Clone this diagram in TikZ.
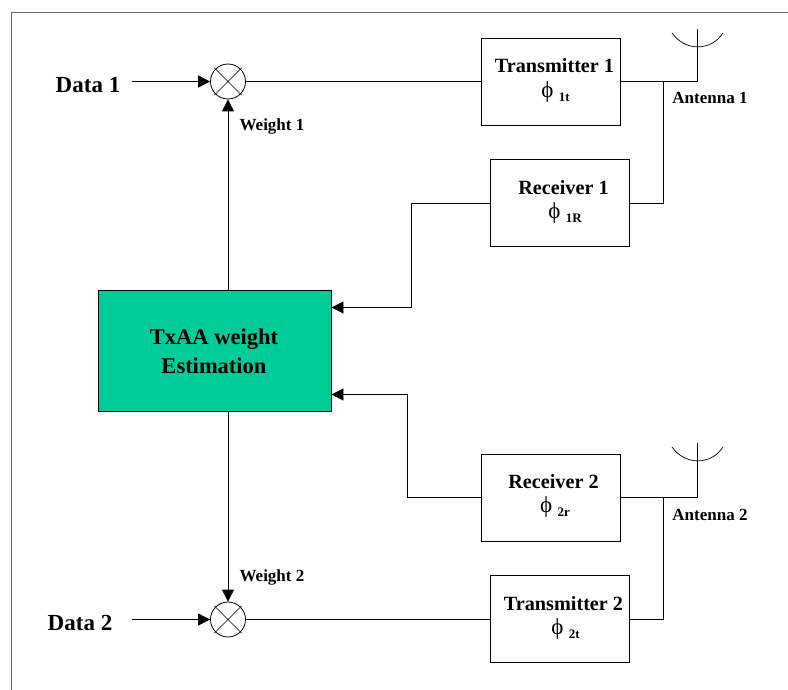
\documentclass[tikz,border=0pt]{standalone}
\usepackage{fontspec}
\setmainfont{Liberation Serif}
\definecolor{boxgreen}{RGB}{0,204,153}
\definecolor{framegray}{RGB}{100,100,100}
\usetikzlibrary{arrows.meta,calc}
\tikzset{
  wire/.style={draw=black,line width=0.9pt},
  arrowwire/.style={wire,-{Triangle[length=12pt,width=12pt]}},
  blockbox/.style={draw=black,line width=0.9pt,minimum width=139pt,minimum height=87pt,inner sep=0pt},
  mixer/.style={circle,draw=black,line width=0.8pt,minimum size=35pt,inner sep=0pt},
  txt/.style={font=\bfseries,inner sep=0pt,anchor=center},
  bigtxt/.style={txt,font=\fontsize{23}{26}\selectfont\bfseries},
  midtxt/.style={txt,font=\fontsize{20.2}{22}\selectfont\bfseries},
  smalltxt/.style={txt,font=\fontsize{17}{19}\selectfont\bfseries},
}
\newcommand{\phisym}[1]{{\mdseries\fontsize{23}{24}\selectfont ϕ}\raisebox{-4pt}[0pt][0pt]{\fontsize{13}{14}\selectfont\bfseries\ \,#1}}
\begin{document}
\begin{tikzpicture}[x=1pt,y=-1pt]
\useasboundingbox (0,0) rectangle (788,690);
\draw[framegray,line width=1.1pt] (11.5,690) -- (11.5,12.5) -- (788,12.5);
% blocks
\node[blockbox] (tx1) at (550.5,81.5) {};
\node[blockbox] (rx1) at (559.5,203) {};
\node[blockbox] (rx2) at (550.5,497.5) {};
\node[blockbox] (tx2) at (559.5,619) {};
\node[draw=black,line width=0.9pt,fill=boxgreen,minimum width=233pt,minimum height=121pt,inner sep=0pt] (est) at (214.5,350.5) {};
\node[mixer] (m1) at (228,81.5) {};
\node[mixer] (m2) at (228,619.5) {};
\draw[black,line width=0.7pt] (m1.45)+(1,-1) -- ($(m1.225)+(-1,1)$) (m1.135)+(-1,-1) -- ($(m1.315)+(1,1)$);
\draw[black,line width=0.7pt] (m2.45)+(1,-1) -- ($(m2.225)+(-1,1)$) (m2.135)+(-1,-1) -- ($(m2.315)+(1,1)$);
% free ends
\coordinate (d1) at (132,81.5);
\coordinate (d2) at (132,619.5);
\coordinate (a1top) at (697.5,29);
\coordinate (a2top) at (697.5,443);
\coordinate (a1foot) at (697.5,81.5);
\coordinate (a2foot) at (697.5,497.5);
\coordinate (j1) at (663.5,81.5);
\coordinate (j2) at (663.5,497.5);
% connectors
\draw[arrowwire] (d1) -- (m1.west);
\draw[arrowwire] (d2) -- (m2.west);
\draw[wire] (m1.east) -- (tx1.west);
\draw[wire] (m2.east) -- (tx2.west |- m2.east);
\draw[arrowwire] (est.north -| m1) -- (m1.south);
\draw[arrowwire] (est.south -| m2) -- (m2.north);
\draw[arrowwire] (rx1.west |- 0,203.5) -- (411.5,203.5) -- (411.5,307.5) -- (est.east |- 0,307.5);
\draw[arrowwire] (rx2.west) -- (407.5,497.5) -- (407.5,394.5) -- (est.east |- 0,394.5);
\draw[wire] (tx1.east) -- (a1foot) -- (a1top);
\draw[wire] (rx2.east) -- (a2foot) -- (a2top);
\draw[wire] (j1) -- (663.5,203.5) -- (rx1.east |- 0,203.5);
\draw[wire] (j2) -- (663.5,619.5) -- (tx2.east |- 0,619.5);
% antennas
\draw[black,line width=0.7pt] (672,33) .. controls (685,51.5) and (711,51.5) .. (723,33);
\draw[black,line width=0.7pt] (672,447) .. controls (685,465.5) and (711,465.5) .. (723,447);
% labels
\node[bigtxt] (l1) at (88,85) {Data 1};
\node[bigtxt] (l2) at (80,623) {Data 2};
\node[smalltxt] (w1) at (272,126) {Weight 1};
\node[smalltxt] (w2) at (272,577.5) {Weight 2};
\node[smalltxt] (a1) at (710,98) {Antenna 1};
\node[smalltxt] (a2) at (710,515) {Antenna 2};
\node[midtxt] (t1) at (554.5,65.5) {Transmitter 1};
\node[midtxt] (t2) at (563.5,603.5) {Transmitter 2};
\node[midtxt] (r1) at (563.5,187.5) {Receiver 1};
\node[midtxt] (r2) at (553.5,482) {Receiver 2};
\node[txt] (p1) at (555.5,92) {\phisym{1t}};
\node[txt] (p2) at (565.5,629) {\phisym{2t}};
\node[txt] (p3) at (565,213) {\phisym{1R}};
\node[txt] (p4) at (555,507) {\phisym{2r}};
\node[txt,font=\fontsize{22.5}{29}\selectfont\bfseries,align=center] (e) at (214,351) {TxAA weight\\Estimation};
\end{tikzpicture}
\end{document}
